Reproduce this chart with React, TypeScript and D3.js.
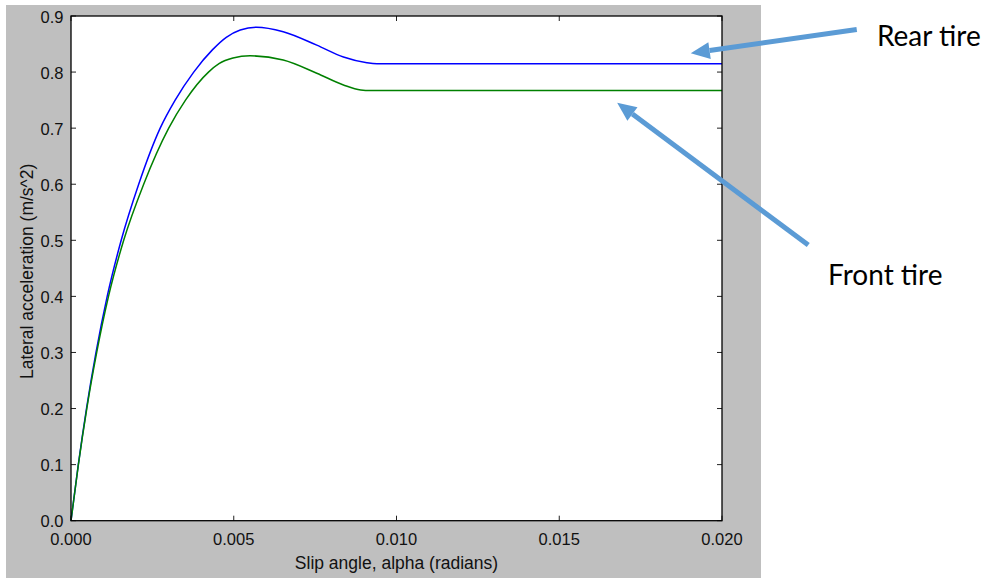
import React, { useEffect, useRef } from 'react'
import * as d3 from 'd3'

// ---- data ----
// rear tire (blue)
const rearAlpha = [0, 0.000224, 0.000476, 0.000768, 0.001112, 0.001542, 0.00208, 0.00274, 0.0032, 0.00377, 0.00435, 0.00477, 0.0052, 0.0057, 0.00652, 0.00755, 0.00837, 0.00909, 0.0094, 0.02]
const rearLat = [0, 0.1, 0.2, 0.3, 0.4, 0.5, 0.6, 0.7, 0.75, 0.8, 0.84, 0.862, 0.875, 0.88, 0.872, 0.848, 0.827, 0.8167, 0.815, 0.815]
// front tire (green)
const frontAlpha = [0, 0.000227, 0.000485, 0.00079, 0.001152, 0.001619, 0.002233, 0.003002, 0.003518, 0.004224, 0.004547, 0.004977, 0.0055, 0.00652, 0.00755, 0.00837, 0.0089, 0.0092, 0.02]
const frontLat = [0, 0.1, 0.2, 0.3, 0.4, 0.5, 0.6, 0.7, 0.75, 0.8, 0.815, 0.825, 0.829, 0.8215, 0.798, 0.777, 0.768, 0.767, 0.767]

const xTicks = [0, 0.005, 0.01, 0.015, 0.02]
const yTicks = [0, 0.1, 0.2, 0.3, 0.4, 0.5, 0.6, 0.7, 0.8, 0.9]

// annotations, in data units (tail -> tip)
const annLabels = ['Rear tire', 'Front tire']
const annTail = [[0.02414, 0.876], [0.02265, 0.4916]]
const annTip = [[0.01904, 0.8335], [0.01678, 0.7454]]
const annText = [[0.02476, 0.8643], [0.02326, 0.438]]

const W = 990, H = 578
const margin = { top: 16, right: 268, bottom: 57.3, left: 71 }

const Chart = () => {
    const ref = useRef<SVGSVGElement>(null)

    useEffect(() => {
        const svg = d3.select(ref.current)
        svg.selectAll('*').remove()

        const width = W - margin.left - margin.right
        const height = H - margin.top - margin.bottom

        const x = d3.scaleLinear().domain([0, 0.02]).range([margin.left, margin.left + width])
        const y = d3.scaleLinear().domain([0, 0.9]).range([margin.top + height, margin.top])

        // gray figure background
        svg.append('rect')
            .attr('x', 6).attr('y', 5)
            .attr('width', 755).attr('height', H - 5)
            .attr('fill', '#bfbfbf')

        svg.append('rect')
            .attr('x', margin.left).attr('y', margin.top)
            .attr('width', width).attr('height', height)
            .attr('fill', 'white')

        const plot = svg.append('g')
        const line = d3.line<[number, number]>()
            .x(d => x(d[0]))
            .y(d => y(d[1]))
            .curve(d3.curveMonotoneX)

        const series = [
            { xs: rearAlpha, ys: rearLat, color: '#0000ff' },
            { xs: frontAlpha, ys: frontLat, color: '#008000' },
        ]
        series.forEach(s => {
            plot.append('path')
                .datum(s.xs.map((a, i) => [a, s.ys[i]] as [number, number]))
                .attr('d', line)
                .attr('fill', 'none')
                .attr('stroke', s.color)
                .attr('stroke-width', 1.5)
        })

        // inward ticks on all four sides (matplotlib classic)
        const tickLen = 5
        const ticks = svg.append('g').attr('stroke', '#222').attr('stroke-width', 1)
        xTicks.forEach(t => {
            ticks.append('line').attr('x1', x(t)).attr('x2', x(t))
                .attr('y1', y(0)).attr('y2', y(0) - tickLen)
            ticks.append('line').attr('x1', x(t)).attr('x2', x(t))
                .attr('y1', y(0.9)).attr('y2', y(0.9) + tickLen)
        })
        yTicks.forEach(t => {
            ticks.append('line').attr('x1', x(0)).attr('x2', x(0) + tickLen)
                .attr('y1', y(t)).attr('y2', y(t))
            ticks.append('line').attr('x1', x(0.02)).attr('x2', x(0.02) - tickLen)
                .attr('y1', y(t)).attr('y2', y(t))
        })

        svg.append('rect')
            .attr('x', margin.left).attr('y', margin.top)
            .attr('width', width).attr('height', height)
            .attr('fill', 'none')
            .attr('stroke', 'black')
            .attr('stroke-width', 1.3)

        const font = '"Liberation Sans", Arial, sans-serif'
        svg.append('g').selectAll('text')
            .data(xTicks)
            .enter()
            .append('text')
            .attr('x', d => x(d))
            .attr('y', y(0) + 24.5)
            .attr('text-anchor', 'middle')
            .attr('font-family', font)
            .attr('font-size', 16.5)
            .attr('fill', '#111')
            .text(d => d3.format('.3f')(d))

        svg.append('g').selectAll('text')
            .data(yTicks)
            .enter()
            .append('text')
            .attr('x', margin.left - 7.5)
            .attr('y', d => y(d) + 6.5)
            .attr('text-anchor', 'end')
            .attr('font-family', font)
            .attr('font-size', 16.5)
            .attr('fill', '#111')
            .text(d => d3.format('.1f')(d))

        svg.append('text')
            .attr('x', margin.left + width / 2)
            .attr('y', 569)
            .attr('text-anchor', 'middle')
            .attr('font-family', font)
            .attr('font-size', 17.5)
            .attr('fill', '#111')
            .text('Slip angle, alpha (radians)')

        svg.append('text')
            .attr('transform', `translate(33, ${margin.top + height / 2 + 3}) rotate(-90)`)
            .attr('text-anchor', 'middle')
            .attr('font-family', font)
            .attr('font-size', 17.5)
            .attr('fill', '#111')
            .text('Lateral acceleration (m/s^2)')

        // annotation arrows
        const arrowColor = '#5b9bd5'
        annLabels.forEach((lab, i) => {
            const x0 = x(annTail[i][0]), y0 = y(annTail[i][1])
            const x1 = x(annTip[i][0]), y1 = y(annTip[i][1])
            const ang = Math.atan2(y1 - y0, x1 - x0)
            const headLen = 19, headW = 8.5
            const bx = x1 - headLen * Math.cos(ang), by = y1 - headLen * Math.sin(ang)
            svg.append('line')
                .attr('x1', x0).attr('y1', y0)
                .attr('x2', bx).attr('y2', by)
                .attr('stroke', arrowColor)
                .attr('stroke-width', 5)
            const px = -Math.sin(ang), py = Math.cos(ang)
            svg.append('path')
                .attr('d', `M${x1},${y1}L${bx + px * headW},${by + py * headW}L${bx - px * headW},${by - py * headW}Z`)
                .attr('fill', arrowColor)

            svg.append('text')
                .attr('x', x(annText[i][0]))
                .attr('y', y(annText[i][1]) + 9.5)
                .attr('font-family', 'Lato, "Open Sans", sans-serif')
                .attr('font-size', 28)
                .attr('fill', 'black')
                .text(lab)
        })
    }, [])

    return <svg ref={ref} width={W} height={H} style={{ position: 'absolute', left: 0, top: 0, background: 'white' }} />
}

export default function App() {
    return <Chart />
}
